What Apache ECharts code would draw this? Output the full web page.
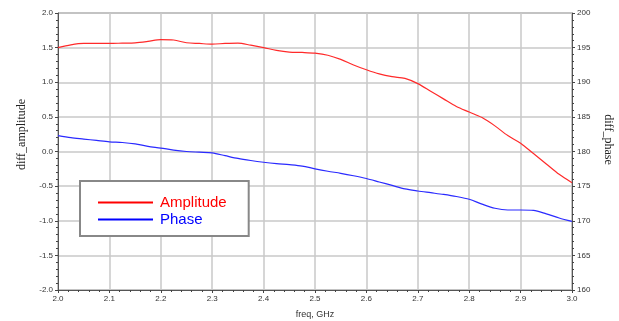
<!DOCTYPE html>
<html>
<head>
<meta charset="utf-8">
<script src="https://cdn.jsdelivr.net/npm/echarts@6/dist/echarts.min.js"></script>
<style>
  html, body { margin: 0; padding: 0; background: #fff; }
  #chart { width: 619px; height: 321px; }
</style>
</head>
<body>
<div id="chart"></div>
<script>
// frequency points, GHz
const freq = [2.000, 2.025, 2.050, 2.075, 2.100, 2.125, 2.150, 2.175, 2.200, 2.225,
  2.250, 2.275, 2.300, 2.325, 2.350, 2.375, 2.400, 2.425, 2.450, 2.475,
  2.500, 2.525, 2.550, 2.575, 2.600, 2.625, 2.650, 2.675, 2.700, 2.725,
  2.750, 2.775, 2.800, 2.825, 2.850, 2.875, 2.900, 2.925, 2.950, 2.975, 3.000]
// diff_amplitude (left axis)
const amplitude = [1.50, 1.54, 1.56, 1.56, 1.56, 1.565, 1.57, 1.59, 1.615, 1.61,
  1.57, 1.56, 1.55, 1.56, 1.565, 1.535, 1.50, 1.46, 1.435, 1.43,
  1.42, 1.39, 1.33, 1.25, 1.18, 1.12, 1.08, 1.055, 0.98, 0.87,
  0.76, 0.65, 0.57, 0.49, 0.37, 0.23, 0.12, -0.03, -0.18, -0.33, -0.45]
// diff_phase (right axis)
const phase = [182.3, 182.0, 181.8, 181.6, 181.4, 181.3, 181.1, 180.75, 180.5, 180.2,
  180.0, 179.9, 179.8, 179.4, 179.0, 178.7, 178.45, 178.25, 178.1, 177.9,
  177.5, 177.15, 176.85, 176.5, 176.1, 175.6, 175.1, 174.6, 174.3, 174.05,
  173.8, 173.5, 173.1, 172.4, 171.8, 171.55, 171.55, 171.5, 171.0, 170.4, 169.9]

const labelStyle = { color: '#333', fontSize: 8, fontFamily: 'Arial' }
const gridLine = { show: true, lineStyle: { color: '#c8c8c8', width: 1.5 } }
const axisLine = { show: true, onZero: false, lineStyle: { color: '#555', width: 1 } }

const chart = echarts.init(document.getElementById('chart'))
chart.setOption({
  animation: false,
  backgroundColor: '#fff',
  grid: {
    left: 58, right: 47, top: 13, bottom: 31,
    outerBoundsMode: 'none', containLabel: false,
    show: true, borderColor: '#666', borderWidth: 1
  },
  legend: {
    orient: 'vertical',
    left: 80,
    top: 181,
    width: 169,
    padding: [14, 22, 9, 18],
    itemGap: 2,
    itemWidth: 55,
    itemHeight: 2,
    icon: 'rect',
    borderColor: '#888',
    borderWidth: 2,
    backgroundColor: '#fff',
    textStyle: { fontSize: 15, fontFamily: 'Arial', padding: [0, 0, 0, 2] },
    data: [
      { name: 'Amplitude', textStyle: { color: '#ff0000' } },
      { name: 'Phase', textStyle: { color: '#0000ff' } }
    ]
  },
  xAxis: {
    type: 'value',
    min: 2.0,
    max: 3.0,
    interval: 0.1,
    name: 'freq, GHz',
    nameLocation: 'middle',
    nameGap: 20,
    nameTextStyle: { color: '#333', fontSize: 9, fontFamily: 'Arial' },
    axisLine: axisLine,
    axisTick: { show: true, length: 3, lineStyle: { color: '#444' } },
    minorTick: { show: true, splitNumber: 5, length: 2, lineStyle: { color: '#444' } },
    axisLabel: Object.assign({ margin: 5, formatter: v => v.toFixed(1) }, labelStyle),
    splitLine: gridLine
  },
  yAxis: [
    {
      type: 'value',
      min: -2.0,
      max: 2.0,
      interval: 0.5,
      name: 'diff_amplitude',
      nameLocation: 'middle',
      nameGap: 30,
      nameTextStyle: { color: '#222', fontSize: 12, fontFamily: 'Liberation Serif', padding: [0, 0, 0, 34] },
      axisLine: axisLine,
      axisTick: { show: true, length: 3, lineStyle: { color: '#444' } },
      minorTick: { show: true, splitNumber: 5, length: 2, lineStyle: { color: '#444' } },
      axisLabel: Object.assign({ margin: 5, formatter: v => v.toFixed(1) }, labelStyle),
      splitLine: gridLine
    },
    {
      type: 'value',
      min: 160,
      max: 200,
      interval: 5,
      name: 'diff_phase',
      nameLocation: 'middle',
      nameGap: 30,
      nameRotate: -90,
      nameTextStyle: { color: '#222', fontSize: 12, fontFamily: 'Liberation Serif', padding: [0, 24, 0, 0] },
      axisLine: axisLine,
      axisTick: { show: true, length: 3, lineStyle: { color: '#444' } },
      minorTick: { show: true, splitNumber: 5, length: 2, lineStyle: { color: '#444' } },
      axisLabel: Object.assign({ margin: 5 }, labelStyle),
      splitLine: { show: false }
    }
  ],
  series: [
    {
      name: 'Amplitude',
      type: 'line',
      yAxisIndex: 0,
      data: freq.map((f, i) => [f, amplitude[i]]),
      showSymbol: false,
      smooth: 0.3,
      color: '#ff0000',
      lineStyle: { color: '#ff2a2a', width: 1.2 }
    },
    {
      name: 'Phase',
      type: 'line',
      yAxisIndex: 1,
      data: freq.map((f, i) => [f, phase[i]]),
      showSymbol: false,
      smooth: 0.3,
      color: '#0000ff',
      lineStyle: { color: '#2a2aff', width: 1.2 }
    }
  ]
})
</script>
</body>
</html>
